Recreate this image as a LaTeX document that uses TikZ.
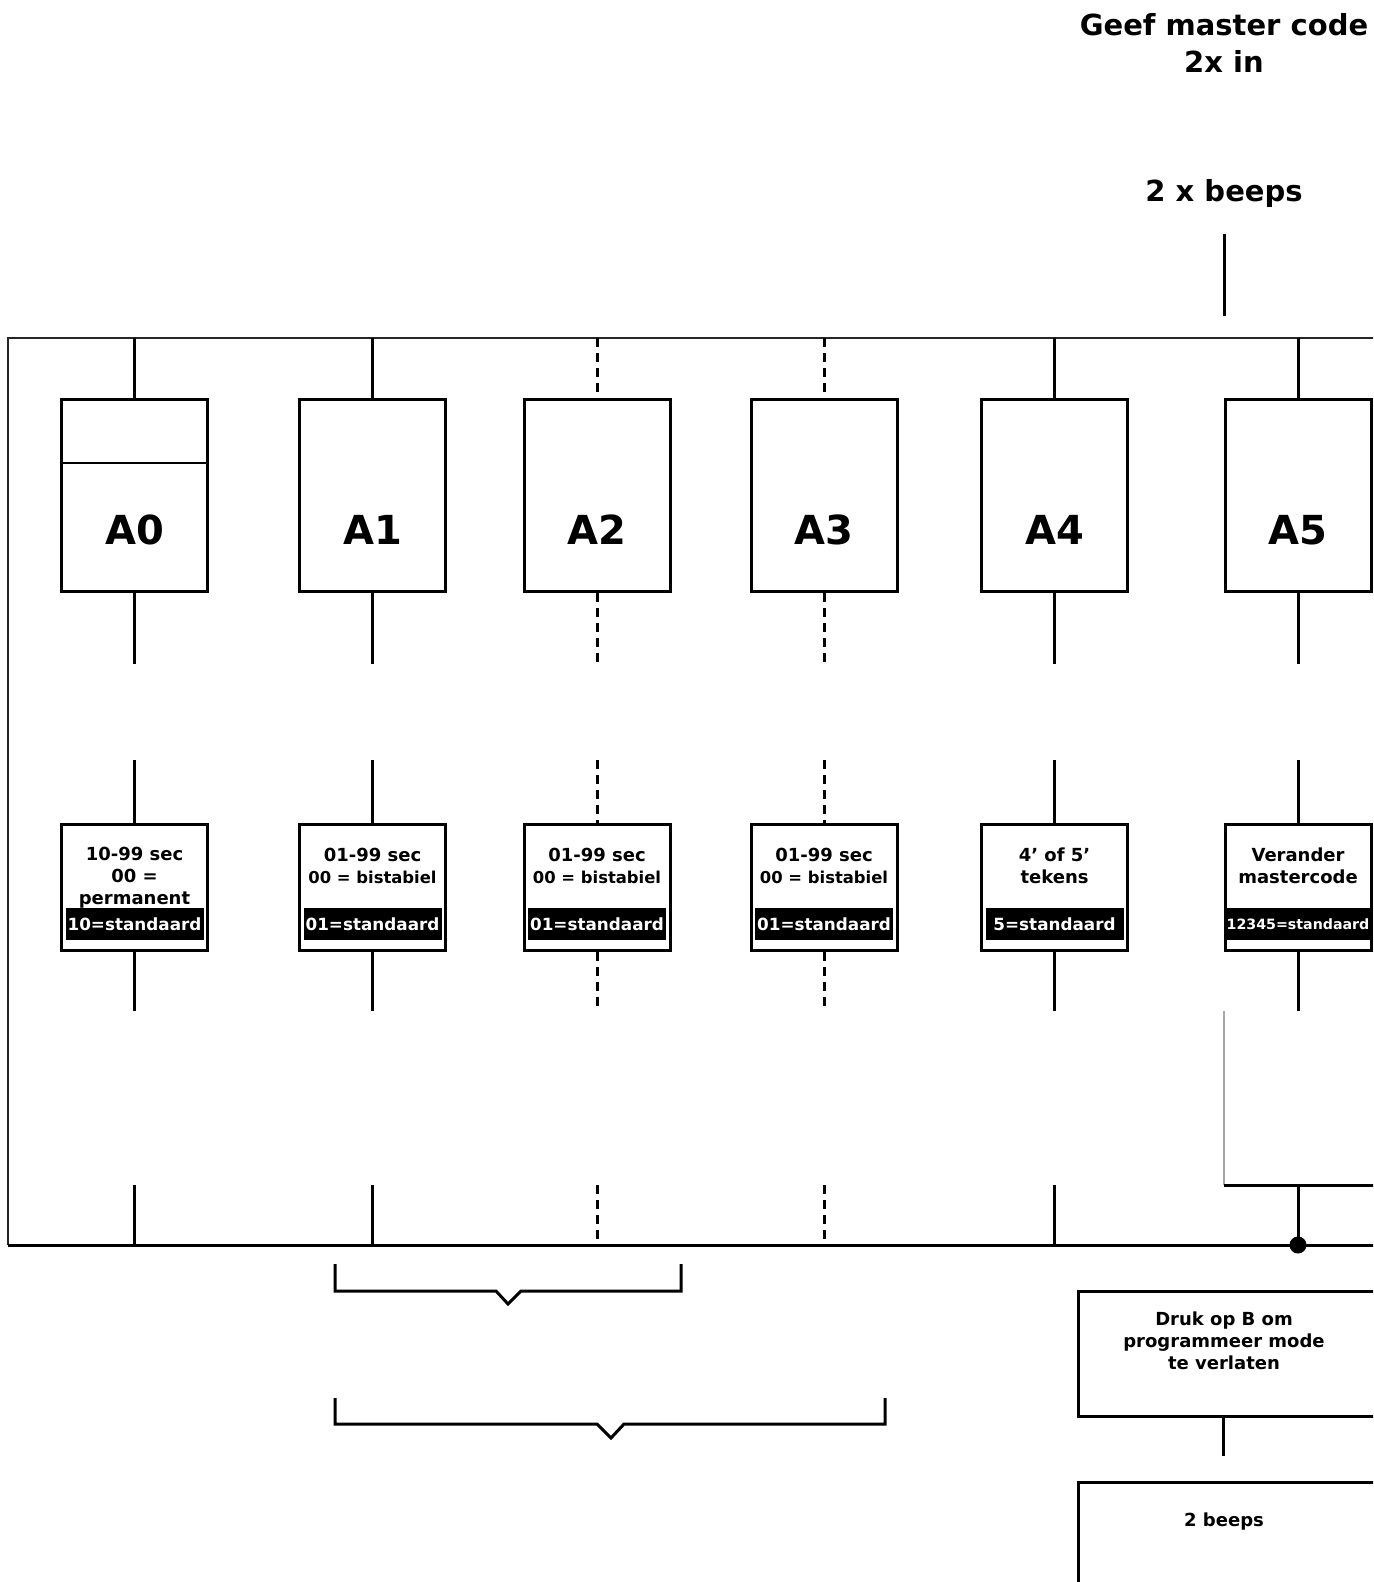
\documentclass[tikz,border=0pt]{standalone}
\usepackage{fontspec}
\setmainfont{DejaVu Sans}
\begin{document}
\begin{tikzpicture}[x=0.5pt,y=-0.5pt,
  abox/.style={draw, line width=1.5pt, minimum width=73pt, minimum height=96pt, inner sep=0pt},
  alabel/.style={font=\fontsize{20pt}{24pt}\selectfont\bfseries, inner sep=0pt},
  vbox/.style={draw, line width=1.5pt, minimum width=73pt, minimum height=63pt, inner sep=0pt},
  vtext/.style={font=\fontsize{9pt}{11pt}\selectfont\bfseries, align=center, inner sep=0pt},
  blabel/.style={fill=black, text=white, font=\fontsize{8.4pt}{10pt}\selectfont\bfseries, minimum width=69pt, minimum height=16pt, inner sep=0pt},
  ttext/.style={font=\fontsize{14.5pt}{18.5pt}\selectfont\bfseries, align=center, inner sep=0pt},
  btext/.style={font=\fontsize{9pt}{11pt}\selectfont\bfseries, align=center, inner sep=0pt},
  conn/.style={line width=1.5pt},
  dconn/.style={line width=1.5pt, dash pattern=on 4.5pt off 3pt},
  brace/.style={line width=1.5pt},
  bigbox/.style={draw, line width=1.5pt, inner sep=0pt, anchor=north west}
]
\useasboundingbox (0,0) rectangle (1373,1582);
\clip (0,0) rectangle (1373,1582);

% frame
\coordinate (ftop) at (8,338);
\coordinate (fbot) at (8,1245);
\coordinate (fright) at (1380,1245);
\coordinate (frighttop) at (1380,338);
\coordinate (s1) at (0,664);
\coordinate (s2) at (0,760);
\coordinate (s3) at (0,1011);
\coordinate (s4) at (0,1185);
\coordinate (dv) at (0,463);
\draw[line width=1pt, black!85] (frighttop) -- (ftop) -- (fbot);
\draw[line width=1.5pt] (fbot) -- (fright);

% columns
\foreach \i/\x/\lbl in {0/134.5/A0, 1/372.5/A1, 2/597/A2, 3/824/A3, 4/1054.5/A4, 5/1298/A5} {
  \node[abox] (b\i) at (\x,495.5) {};
  \node[alabel] (l\i) at (\x,530) {\lbl};
  \node[vbox] (v\i) at (\x,887) {};
}
\draw[line width=1pt] (b0.west |- dv) -- (b0.east |- dv);

\foreach \i/\s in {0/conn,1/conn,2/dconn,3/dconn,4/conn,5/conn} {
  \draw[\s] (b\i.north |- ftop) -- (b\i.north);
  \draw[\s] (b\i.south) -- (b\i.south |- s1);
  \draw[\s] (b\i.south |- s2) -- (v\i.north);
  \draw[\s] (v\i.south) -- (v\i.south |- s3);
}
\foreach \i/\s in {0/conn,1/conn,2/dconn,3/dconn,4/conn} {
  \draw[\s] (v\i.south |- s4) -- (v\i.south |- fbot);
}

% value texts
\node[vtext] (t0) at (134.5,878) {10-99 sec\\00 =\\permanent};
\node[vtext] (t1) at (372.5,866) {01-99 sec\\{\fontsize{8.2pt}{11pt}\selectfont 00 = bistabiel}};
\node[vtext] (t2) at (597,866) {01-99 sec\\{\fontsize{8.2pt}{11pt}\selectfont 00 = bistabiel}};
\node[vtext] (t3) at (824,866) {01-99 sec\\{\fontsize{8.2pt}{11pt}\selectfont 00 = bistabiel}};
\node[vtext] (t4) at (1054.5,866) {4’ of 5’\\tekens};
\node[vtext] (t5) at (1298,866) {Verander\\mastercode};

\node[blabel] (k0) at (134.5,924) {10=standaard};
\node[blabel] (k1) at (372.5,924) {01=standaard};
\node[blabel] (k2) at (597,924) {01=standaard};
\node[blabel] (k3) at (824,924) {01=standaard};
\node[blabel] (k4) at (1054.5,924) {5=standaard};
\node[blabel, minimum width=74pt, font=\fontsize{7.1pt}{9pt}\selectfont\bfseries] (k5) at (1298,924) {12345=standaard};

% A5 lower part
\coordinate (g1) at (1224,1011);
\coordinate (g2) at (1224,1185);
\coordinate (g3) at (1380,1185);
\coordinate (g5) at (1298,1185);
\draw[line width=0.6pt, black!35] (g1) -- (g2);
\draw[line width=1.5pt] (g2) -- (g3);
\node[circle, fill=black, inner sep=0pt, minimum size=8.5pt] (dot) at (1298,1245) {};
\draw[conn] (g5) -- (dot.center);

% top
\node[ttext] (geef) at (1224,43) {Geef master code\\2x in};
\node[ttext] (beeps) at (1224,194) {2 x beeps};
\coordinate (c1) at (1224,234);
\coordinate (c2) at (1224,316);
\draw[conn] (c1) -- (c2);

% bottom right
\node[bigbox, minimum width=152pt, minimum height=62.5pt] (druk) at (1077,1290) {};
\node[btext] (druktxt) at (1224,1341) {Druk op B om\\programmeer mode\\te verlaten};
\coordinate (dk) at (1223,1456);
\draw[conn] (dk |- druk.south) -- (dk);
\node[bigbox, minimum width=152pt, minimum height=80pt] (beep2) at (1077,1481) {};
\node[btext] (beep2txt) at (1224,1522) {2 beeps};

% braces
\draw[brace] (335,1264) -- (335,1291) -- (496,1291) -- (508,1304) -- (521,1291) -- (681,1291) -- (681,1264);
\draw[brace] (335,1398) -- (335,1424) -- (597,1424) -- (611,1438) -- (624,1424) -- (885,1424) -- (885,1398);
\end{tikzpicture}
\end{document}
